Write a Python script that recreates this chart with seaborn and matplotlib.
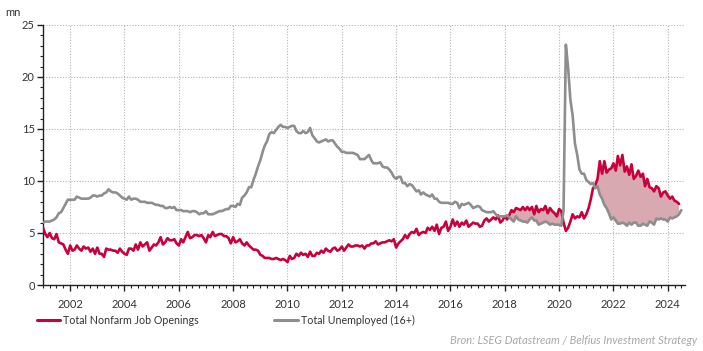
import numpy as np
import pandas as pd
import matplotlib
matplotlib.use("Agg")
import matplotlib.pyplot as plt
import matplotlib.dates as mdates
import seaborn as sns
from matplotlib.lines import Line2D

start_month = "2001-01-01"

job_openings = [
    5.5, 4.9, 4.6, 5.0, 4.5, 4.4, 4.9, 4.1, 4.0, 3.9, 3.4, 3.0,
    3.8, 3.3, 3.4, 3.8, 3.5, 3.3, 3.7, 3.5, 3.6, 3.2, 3.5, 3.0,
    3.6, 3.0, 3.0, 2.7, 3.5, 3.4, 3.4, 3.3, 3.3, 3.1, 3.5, 3.2,
    3.0, 2.9, 3.5, 3.5, 3.3, 3.9, 3.4, 4.1, 3.7, 3.9, 4.1, 3.3,
    3.6, 3.9, 3.8, 4.1, 4.6, 3.9, 4.1, 4.5, 4.3, 4.3, 4.4, 4.0,
    3.8, 4.4, 4.1, 4.6, 5.1, 4.5, 4.6, 4.8, 4.8, 4.7, 4.8, 4.5,
    4.1, 4.8, 4.6, 5.1, 4.7, 4.8, 4.9, 4.9, 4.7, 4.7, 4.5, 4.0,
    4.6, 4.1, 4.2, 4.4, 4.0, 3.8, 4.1, 3.8, 3.6, 3.4, 3.4, 3.3,
    2.9, 2.8, 2.6, 2.6, 2.6, 2.5, 2.5, 2.6, 2.5, 2.4, 2.5, 2.4,
    2.2, 2.8, 2.5, 2.6, 3.0, 2.8, 3.1, 2.9, 3.0, 2.7, 3.2, 2.8,
    2.8, 3.1, 3.0, 3.3, 3.1, 3.5, 3.3, 3.2, 3.5, 3.6, 3.3, 3.4,
    3.7, 3.3, 3.6, 3.9, 3.7, 3.7, 3.8, 3.8, 3.7, 3.8, 3.5, 3.8,
    3.8, 4.0, 4.0, 4.2, 3.9, 4.0, 4.1, 4.1, 4.2, 4.3, 4.2, 4.4,
    3.6, 4.0, 4.2, 4.4, 4.8, 4.5, 4.9, 5.1, 5.0, 5.4, 4.8, 5.0,
    5.1, 5.0, 5.5, 5.3, 5.6, 5.2, 5.8, 4.9, 5.5, 5.6, 6.1, 5.2,
    5.6, 6.3, 5.7, 6.1, 5.6, 6.0, 5.8, 6.2, 5.6, 5.8, 6.0, 5.9,
    5.9, 5.6, 5.7, 6.2, 6.4, 6.1, 6.3, 6.5, 6.3, 6.7, 6.0, 6.2,
    6.6, 6.3, 6.7, 7.2, 7.0, 7.4, 7.3, 7.2, 7.5, 7.2, 7.5, 7.2,
    7.5, 6.8, 7.6, 7.0, 7.3, 7.2, 7.6, 6.9, 7.4, 7.1, 6.9, 6.6,
    7.3, 7.1, 6.0, 5.2, 5.5, 6.1, 6.8, 6.4, 6.6, 6.5, 7.0, 6.4,
    6.8, 7.4, 8.2, 9.3, 9.6, 10.2, 11.9, 10.7, 11.9, 10.8, 11.1, 11.2,
    11.7, 11.0, 12.4, 11.5, 12.5, 10.9, 11.4, 10.6, 11.6, 10.2, 10.5, 11.0,
    10.4, 10.7, 9.5, 10.2, 9.4, 9.3, 9.0, 9.5, 9.3, 8.5, 8.9, 9.0,
    8.6, 8.3, 8.5, 8.1, 8.0, 7.8, np.nan,
]

unemployed = [
    6.0, 6.1, 6.1, 6.1, 6.2, 6.3, 6.5, 6.9, 7.0, 7.4, 7.8, 8.2,
    8.2, 8.2, 8.2, 8.5, 8.4, 8.3, 8.3, 8.3, 8.3, 8.4, 8.6, 8.6,
    8.5, 8.6, 8.6, 8.8, 8.9, 9.2, 9.0, 8.9, 8.9, 8.8, 8.6, 8.4,
    8.3, 8.2, 8.5, 8.2, 8.3, 8.3, 8.2, 8.0, 8.0, 8.0, 7.9, 7.9,
    7.9, 7.8, 7.7, 7.7, 7.6, 7.6, 7.4, 7.4, 7.5, 7.4, 7.5, 7.2,
    7.2, 7.2, 7.1, 7.1, 7.1, 7.0, 7.1, 7.1, 7.0, 6.8, 6.9, 6.9,
    7.1, 6.8, 6.8, 6.8, 6.9, 7.0, 7.1, 7.1, 7.2, 7.3, 7.3, 7.6,
    7.6, 7.5, 7.8, 7.7, 8.4, 8.6, 8.9, 9.4, 9.4, 10.1, 10.7, 11.4,
    12.0, 12.8, 13.4, 13.8, 14.5, 14.7, 14.6, 14.9, 15.2, 15.4, 15.2, 15.2,
    15.1, 15.2, 15.3, 15.3, 14.8, 14.6, 14.6, 14.8, 14.6, 14.7, 15.1, 14.4,
    14.1, 13.8, 13.7, 13.8, 13.9, 14.0, 13.8, 13.9, 13.9, 13.6, 13.3, 13.1,
    12.8, 12.8, 12.7, 12.7, 12.7, 12.7, 12.6, 12.5, 12.1, 12.1, 12.1, 12.3,
    12.5, 12.0, 11.7, 11.7, 11.7, 11.8, 11.4, 11.3, 11.3, 11.1, 10.8, 10.4,
    10.2, 10.4, 10.4, 9.8, 9.8, 9.5, 9.7, 9.6, 9.3, 9.0, 9.1, 8.7,
    8.9, 8.7, 8.6, 8.5, 8.7, 8.3, 8.3, 8.0, 7.9, 7.9, 7.9, 7.9,
    7.8, 7.8, 8.0, 7.9, 7.4, 7.8, 7.7, 7.8, 7.9, 7.7, 7.4, 7.5,
    7.6, 7.5, 7.2, 7.1, 7.0, 7.0, 7.0, 7.1, 6.8, 6.6, 6.6, 6.6,
    6.6, 6.7, 6.5, 6.3, 6.1, 6.6, 6.3, 6.2, 6.1, 6.1, 6.0, 6.3,
    6.5, 6.2, 6.2, 5.8, 5.9, 6.0, 6.1, 6.0, 5.8, 5.9, 5.8, 5.8,
    5.8, 5.7, 7.2, 23.1, 20.9, 17.8, 16.3, 13.6, 12.5, 11.1, 10.7, 10.7,
    10.1, 9.9, 9.7, 9.8, 9.3, 9.5, 8.7, 8.3, 7.7, 7.4, 6.9, 6.3,
    6.5, 6.2, 5.9, 5.9, 6.0, 5.9, 5.7, 6.0, 5.8, 6.0, 6.0, 5.7,
    5.7, 5.9, 5.8, 5.7, 6.1, 6.0, 5.8, 6.4, 6.3, 6.4, 6.3, 6.3,
    6.1, 6.5, 6.4, 6.5, 6.6, 6.8, 7.2,
]

series_names = ["Total Nonfarm Job Openings", "Total Unemployed (16+)"]
y_ticks = [0, 5, 10, 15, 20, 25]
x_tick_years = list(range(2002, 2025, 2))
unit_label = "mn"
source_text = "Bron: LSEG Datastream / Belfius Investment Strategy"

RED = "#c8003c"
GREY = "#8e8e8e"
FILL = "#d9a9b2"

dates = pd.date_range(start_month, periods=len(unemployed), freq="MS")
df = pd.DataFrame({"date": dates, "jobs": job_openings, "unemp": unemployed})
long = df.melt(id_vars="date", value_vars=["jobs", "unemp"], var_name="series", value_name="value")
long["series"] = long["series"].map({"jobs": series_names[0], "unemp": series_names[1]})

sns.set_theme(style="white")
plt.rcParams["font.family"] = ["Lato", "DejaVu Sans"]
FS = 8

fig = plt.figure(figsize=(7.03, 3.51), dpi=100)
ax = fig.add_axes([0.0612, 0.188, 0.9132, 0.741])

jv = df["jobs"].to_numpy(dtype=float)
uv = df["unemp"].to_numpy(dtype=float)
xn = mdates.date2num(df["date"])
valid = ~np.isnan(jv)
ax.fill_between(xn[valid], jv[valid], uv[valid], where=jv[valid] > uv[valid],
                interpolate=True, color=FILL, linewidth=0, zorder=1)

sns.lineplot(data=long, x="date", y="value", hue="series",
             palette={series_names[0]: RED, series_names[1]: GREY},
             linewidth=1.9, ax=ax, legend=False, zorder=3)

ax.set_xlim(mdates.date2num(pd.Timestamp("2001-01-01")), mdates.date2num(pd.Timestamp("2024-08-20")))
ax.set_ylim(0, 25)
ax.set_yticks(y_ticks)
ax.yaxis.set_minor_locator(matplotlib.ticker.MultipleLocator(1))
ax.set_xticks([mdates.date2num(pd.Timestamp(f"{y}-01-01")) for y in x_tick_years])
ax.set_xticklabels([str(y) for y in x_tick_years])
ax.xaxis.set_minor_locator(mdates.MonthLocator(bymonth=[1, 4, 7, 10]))
ax.set_xlabel("")
ax.set_ylabel("")

ax.grid(True, which="major", linestyle=(0, (1, 1.5)), color="#b5b5b5", linewidth=0.8)
ax.set_axisbelow(True)
for s in ["top", "right"]:
    ax.spines[s].set_visible(False)
for s in ["left", "bottom"]:
    ax.spines[s].set_color("#222222")
    ax.spines[s].set_linewidth(1.0)
ax.tick_params(axis="both", which="major", direction="out", length=4, width=1,
               color="#222222", labelsize=FS, labelcolor="#333333", pad=2)
ax.tick_params(axis="both", which="minor", direction="out", length=2.5, width=0.8,
               color="#222222")
ax.tick_params(axis="x", which="major", pad=6)
ax.tick_params(left=True, bottom=True, which="both")

fig.text(0.007, 0.965, unit_label, fontsize=FS, color="#333333", va="center", ha="left")

handles = [Line2D([0], [0], color=RED, lw=2.2), Line2D([0], [0], color=GREY, lw=2.2)]
leg1 = fig.legend([handles[0]], [series_names[0]], loc="center left",
                  bbox_to_anchor=(0.052, 0.088), frameon=False, fontsize=FS - 0.3,
                  handlelength=2.2, handletextpad=0.3, borderaxespad=0, borderpad=0)
leg2 = fig.legend([handles[1]], [series_names[1]], loc="center left",
                  bbox_to_anchor=(0.39, 0.088), frameon=False, fontsize=FS - 0.3,
                  handlelength=2.2, handletextpad=0.3, borderaxespad=0, borderpad=0)
for lg in (leg1, leg2):
    for t in lg.get_texts():
        t.set_color("#333333")

fig.text(0.992, 0.03, source_text, fontsize=8.0, color="#a8a8a8", style="italic",
         ha="right", va="center")

fig.savefig("out.png", dpi=100)
